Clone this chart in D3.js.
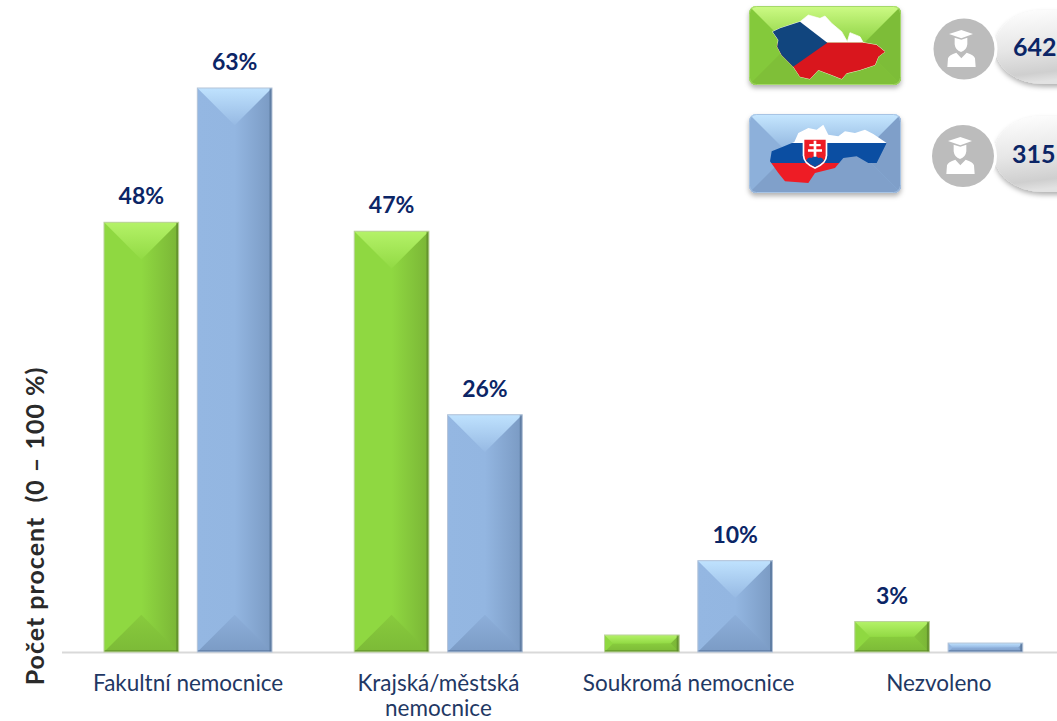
<!DOCTYPE html>
<html>
<head>
<meta charset="utf-8">
<script src="https://cdn.jsdelivr.net/npm/d3@7"></script>
<style>
  html, body { margin: 0; padding: 0; background: #fff; }
  text { font-family: Lato, "Open Sans", sans-serif; }
</style>
</head>
<body>
<div id="chart"></div>
<script>
// Values
const categories = [["Fakultní nemocnice"], ["Krajská/městská", "nemocnice"], ["Soukromá nemocnice"], ["Nezvoleno"]];
const seriesNames = ["CZ", "SK"];
const czValues = [48, 47, 1.9, 3.4];
const skValues = [63, 26.5, 10.2, 1];
const czLabels = ["48%", "47%", "", "3%"];
const skLabels = ["63%", "26%", "10%", ""];
const respondents = ["642", "315"];

const width = 1057;
const height = 721;
const navy = "#0b2566";

const svg = d3.select("#chart").append("svg")
  .attr("width", width)
  .attr("height", height)
  .style("display", "block");

const defs = svg.append("defs");

function gradient(id, x1, y1, x2, y2, stops) {
  defs.append("linearGradient")
    .attr("id", id)
    .attr("x1", x1).attr("y1", y1).attr("x2", x2).attr("y2", y2)
    .selectAll("stop")
    .data(stops)
    .enter()
    .append("stop")
    .attr("offset", function (d) { return d[0]; })
    .attr("stop-color", function (d) { return d[1]; });
}

// Bevel colours
const palette = {
  CZ: { top: "url(#czTop)", face: "url(#czFace)", bottom: "url(#czBottom)", edge: "#567f28", border: "#bcd19e",
        plaqueTop: "url(#czPlaqueTop)", plaqueFace: "#84c93b", plaqueRight: "#7dbd38", plaqueBottom: "#7fbf37", plaqueEdge: "#a5d96a" },
  SK: { top: "url(#skTop)", face: "url(#skFace)", bottom: "url(#skBottom)", edge: "#4f6b90", border: "#b3c3d8",
        plaqueTop: "url(#skPlaqueTop)", plaqueFace: "#8db0da", plaqueRight: "#7f9fc9", plaqueBottom: "#80a0ca", plaqueEdge: "#a8c4e4" },
};
gradient("czTop", 0, 0, 0, 1, [[0, "#b4f268"], [1, "#92da44"]]);
gradient("skTop", 0, 0, 0, 1, [[0, "#bfe2fe"], [1, "#96b9e3"]]);
gradient("czFace", 0, 0, 1, 0, [[0, "#8fd841"], [0.5, "#8fd841"], [1, "#7ab536"]]);
gradient("skFace", 0, 0, 1, 0, [[0, "#94b7e2"], [0.5, "#93b6e1"], [1, "#7a9ac3"]]);
gradient("czBottom", 0, 0, 0, 1, [[0, "#88cb3d"], [1, "#7cba37"]]);
gradient("skBottom", 0, 0, 0, 1, [[0, "#8dafda"], [1, "#7b9bc5"]]);
gradient("czPlaqueTop", 0, 0, 0, 1, [[0, "#cdfb85"], [1, "#89cf3e"]]);
gradient("skPlaqueTop", 0, 0, 0, 1, [[0, "#c6e7ff"], [1, "#8cb1dc"]]);
gradient("pill", 0, 0, 0.2, 1, [[0, "#ffffff"], [0.55, "#e6e6e6"], [0.88, "#cfcfcf"], [1, "#e2e2e2"]]);

const shadow = defs.append("filter").attr("id", "shadow")
  .attr("x", "-20%").attr("y", "-20%").attr("width", "140%").attr("height", "150%");
shadow.append("feDropShadow")
  .attr("dx", 0).attr("dy", 3).attr("stdDeviation", 2.5)
  .attr("flood-color", "#000").attr("flood-opacity", 0.3);

// Scales
const x0 = d3.scaleBand().domain(d3.range(categories.length)).range([63, 1064]);
const x1 = d3.scaleBand().domain(seriesNames).range([41, 209]).paddingInner(0.2);
const y = d3.scaleLinear().domain([0, 63]).range([652, 88]);

// Axis line
svg.append("line")
  .attr("x1", 62).attr("x2", width)
  .attr("y1", 652.5).attr("y2", 652.5)
  .attr("stroke", "#d9d9d9")
  .attr("stroke-width", 2);

function pts(points) {
  return points.map(function (p) { return p.join(","); }).join(" ");
}

// One bevelled bar, built from the scales
function drawBar(name, i, value, label) {
  const c = palette[name];
  const w = x1.bandwidth();
  const left = x0(i) + x1(name);
  const right = left + w;
  const top = y(value);
  const bottom = y(0);
  const b = Math.min(w / 2, (bottom - top) / 2);
  const g = svg.append("g");

  g.append("rect")
    .attr("x", left).attr("y", top)
    .attr("width", w).attr("height", bottom - top)
    .attr("fill", c.face);
  g.append("polygon")
    .attr("points", pts([[left, bottom], [left + b, bottom - b], [right - b, bottom - b], [right, bottom]]))
    .attr("fill", c.bottom);
  g.append("polygon")
    .attr("points", pts([[left, top], [right, top], [right - b, top + b], [left + b, top + b]]))
    .attr("fill", c.top);

  g.append("rect")
    .attr("x", right - 2.5).attr("y", top)
    .attr("width", 2.5).attr("height", bottom - top)
    .attr("fill", c.edge).attr("opacity", 0.6);
  g.append("rect")
    .attr("x", left).attr("y", bottom - 2)
    .attr("width", w).attr("height", 2)
    .attr("fill", c.edge).attr("opacity", 0.45);
  g.append("rect")
    .attr("x", left).attr("y", top)
    .attr("width", w).attr("height", bottom - top)
    .attr("fill", "none")
    .attr("stroke", c.border)
    .attr("stroke-width", 1);

  if (label) {
    svg.append("text")
      .attr("x", left + w / 2)
      .attr("y", top - 18)
      .attr("text-anchor", "middle")
      .attr("font-size", 23)
      .attr("font-weight", 700)
      .attr("fill", navy)
      .text(label);
  }
}

categories.forEach(function (cat, i) {
  drawBar("CZ", i, czValues[i], czLabels[i]);
  drawBar("SK", i, skValues[i], skLabels[i]);

  const t = svg.append("text")
    .attr("x", x0(i) + x0.bandwidth() / 2)
    .attr("y", 691)
    .attr("text-anchor", "middle")
    .attr("font-size", 22.5)
    .attr("fill", "#1f3864");
  cat.forEach(function (line, k) {
    t.append("tspan")
      .attr("x", x0(i) + x0.bandwidth() / 2)
      .attr("dy", k ? 24.5 : 0)
      .text(line);
  });
});

// Y title
svg.append("text")
  .attr("transform", "translate(44,526) rotate(-90)")
  .attr("text-anchor", "middle")
  .attr("font-size", 25)
  .attr("font-weight", 700)
  .attr("letter-spacing", 1)
  .attr("fill", "#2a2a2a")
  .attr("xml:space", "preserve")
  .text("Počet procent  (0 – 100 %)");

// Legend plaques
function plaque(yTop, name) {
  const c = palette[name];
  const X = 749, W = 152, H = 79;
  const g = svg.append("g").attr("filter", "url(#shadow)");
  const clipId = "plq" + name;
  defs.append("clipPath").attr("id", clipId)
    .append("rect").attr("x", X).attr("y", yTop).attr("width", W).attr("height", H).attr("rx", 7);
  const inner = g.append("g").attr("clip-path", "url(#" + clipId + ")");
  const b = H / 2;
  inner.append("rect").attr("x", X).attr("y", yTop).attr("width", W).attr("height", H).attr("fill", c.plaqueFace);
  inner.append("polygon")
    .attr("points", pts([[X + W, yTop], [X + W - b, yTop + b], [X + W, yTop + H]]))
    .attr("fill", c.plaqueRight);
  inner.append("polygon")
    .attr("points", pts([[X, yTop + H], [X + b, yTop + b], [X + W - b, yTop + b], [X + W, yTop + H]]))
    .attr("fill", c.plaqueBottom);
  inner.append("polygon")
    .attr("points", pts([[X, yTop], [X + W, yTop], [X + W - b, yTop + b], [X + b, yTop + b]]))
    .attr("fill", c.plaqueTop);
  g.append("rect")
    .attr("x", X + 0.5).attr("y", yTop + 0.5)
    .attr("width", W - 1).attr("height", H - 1).attr("rx", 7)
    .attr("fill", "none")
    .attr("stroke", c.plaqueEdge);
}
plaque(6, "CZ");
plaque(114, "SK");

// Maps, drawn in 3x crop coordinates, hence the scale
const czOutline = "M8,65 L30,55 L60,45 L90,35 L115,15 L150,25 L165,18 L185,40 L215,65 L232,95 L240,68 L270,80 L280,98 L320,105 L345,125 L325,140 L315,165 L270,180 L230,190 L215,207 L185,195 L145,180 L120,207 L90,200 L70,170 L35,135 L22,110 L25,90 Z";
const skOutline = "M15,130 L20,100 L50,88 L88,72 L100,45 L130,30 L155,35 L175,20 L190,50 L220,55 L240,40 L270,45 L300,35 L325,48 L365,75 L350,105 L335,135 L310,135 L275,115 L235,120 L210,150 L150,165 L130,195 L60,190 L40,165 Z";

const czMap = svg.append("g").attr("transform", "translate(770,10) scale(0.3333)");
czMap.append("path").attr("d", czOutline).attr("fill", "none").attr("stroke", "#e8f4d0").attr("stroke-width", 3);
defs.append("clipPath").attr("id", "czClip").append("path").attr("d", czOutline);
const cz = czMap.append("g").attr("clip-path", "url(#czClip)");
cz.append("rect").attr("width", 360).attr("height", 98).attr("fill", "#fff");
cz.append("rect").attr("y", 98).attr("width", 360).attr("height", 120).attr("fill", "#d9161d");
cz.append("polygon").attr("points", "0,-34 172,98 0,219").attr("fill", "#11457e");

const skMap = svg.append("g").attr("transform", "translate(765,118) scale(0.3333)");
defs.append("clipPath").attr("id", "skClip").append("path").attr("d", skOutline);
const sk = skMap.append("g").attr("clip-path", "url(#skClip)");
sk.append("rect").attr("width", 375).attr("height", 75).attr("fill", "#fff");
sk.append("rect").attr("y", 75).attr("width", 375).attr("height", 60).attr("fill", "#0b4ea2");
sk.append("rect").attr("y", 135).attr("width", 375).attr("height", 70).attr("fill", "#ee1c25");

// Slovak shield
skMap.append("path")
  .attr("d", "M113,60 H187 V112 Q187,138 150,153 Q113,138 113,112 Z")
  .attr("fill", "#fff");
skMap.append("path")
  .attr("d", "M118,65 H182 V112 Q182,134 150,147 Q118,134 118,112 Z")
  .attr("fill", "#ee1c25");
skMap.append("path")
  .attr("d", "M123,128 Q130,114 140,120 Q150,108 160,120 Q170,114 177,128 Q165,140 150,147 Q135,140 123,128 Z")
  .attr("fill", "#0b4ea2");
skMap.append("path")
  .attr("d", "M146,68 H154 V78 H167 V85 H154 V94 H171 V101 H154 V116 H146 V101 H129 V94 H146 V85 H133 V78 H146 Z")
  .attr("fill", "#fff");

// Respondent badges
function badge(cx, cy, r, pillX, pillTop, pillBottom, value) {
  const pillG = svg.append("g").attr("filter", "url(#shadow)");
  pillG.append("rect")
    .attr("x", pillX)
    .attr("y", pillTop)
    .attr("width", 130)
    .attr("height", pillBottom - pillTop)
    .attr("rx", 48)
    .attr("ry", (pillBottom - pillTop) / 2)
    .attr("fill", "url(#pill)");

  svg.append("circle")
    .attr("cx", cx).attr("cy", cy).attr("r", r + 3)
    .attr("fill", "#fff");
  svg.append("circle")
    .attr("cx", cx).attr("cy", cy).attr("r", r)
    .attr("fill", "#bcbcbc");

  // graduate figure, in crop coordinates around the circle centre
  const u = svg.append("g")
    .attr("transform", "translate(" + (cx - 40) + "," + (cy - 44) + ") scale(0.3333)")
    .attr("fill", "#fff");
  u.append("path").attr("d", "M75,87 L112,75 L147,87 L112,100 Z");
  u.append("path").attr("d", "M92,98 L112,104 L130,98 V118 Q128,136 111,141 Q94,136 92,118 Z");
  u.append("path").attr("d", "M70,186 L72,160 Q75,150 97,143 L112,160 L128,143 Q150,150 153,160 L155,186 Z");

  svg.append("text")
    .attr("x", pillX + 18)
    .attr("y", (pillTop + pillBottom) / 2 + 9)
    .attr("font-size", 25)
    .attr("font-weight", 700)
    .attr("fill", navy)
    .text(value);
}
badge(964, 49, 30.5, 995, 10, 84, respondents[0]);
badge(963, 156, 31, 994, 116, 192, respondents[1]);
</script>
</body>
</html>
